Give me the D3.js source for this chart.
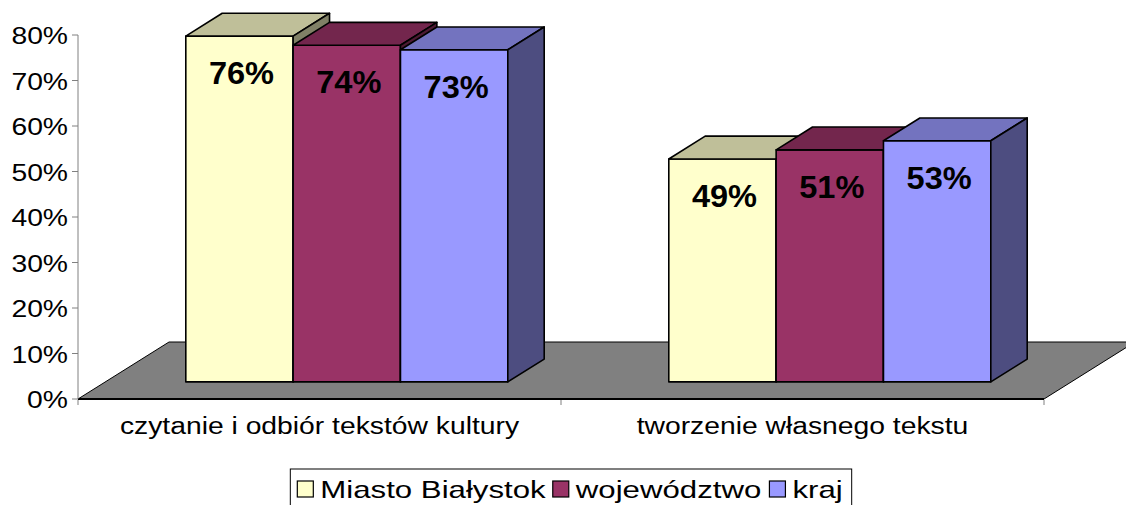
<!DOCTYPE html>
<html>
<head>
<meta charset="utf-8">
<script src="https://cdn.jsdelivr.net/npm/d3@7"></script>
<style>
  body { margin: 0; background: #fff; }
  text { font-family: Arial, "Liberation Sans", sans-serif; }
</style>
</head>
<body>
<svg id="chart" width="1126" height="505"></svg>
<script>
// Data
const categories = ["czytanie i odbiór tekstów kultury", "tworzenie własnego tekstu"];
const seriesNames = ["Miasto Białystok", "województwo", "kraj"];
const miasto = [0.76, 0.49];
const wojewodztwo = [0.74, 0.51];
const kraj = [0.73, 0.53];
const yTicks = [0, 0.1, 0.2, 0.3, 0.4, 0.5, 0.6, 0.7, 0.8];
const seriesColors = ["#FFFFCC", "#993366", "#9999FF"];

const seriesValues = [miasto, wojewodztwo, kraj];

// Layout for the 3d look
const svg = d3.select("#chart");
const depthX = 91, depthY = 57;          // offset of the back of the floor
const barFront = 0.3, barBack = 0.7;     // bar depth inside the floor
const stretch = 1.23;                    // the original text is wide

const x0 = d3.scaleBand().domain(categories).range([78, 1044]);
const x1 = d3.scaleBand().domain(seriesNames).range([0, x0.bandwidth()])
  .paddingOuter(0.75);
const y = d3.scaleLinear().domain([0, 0.8]).range([399, 35]);

// project a point (x, value, depth) to the screen
const P = (x, v, d) => [x + d * depthX, y(v) - d * depthY];
const poly = (pts) => "M" + pts.map((p) => p.join(",")).join("L") + "Z";

// Floor
const [fx0, fx1] = x0.range();
svg.append("path")
  .attr("d", poly([P(fx0, 0, 0), P(fx0, 0, 1), P(fx1, 0, 1), P(fx1, 0, 0)]))
  .attr("fill", "#808080")
  .attr("stroke", "#000")
  .attr("stroke-width", 1);

// front edge of the floor
svg.append("line")
  .attr("x1", fx0).attr("x2", fx1)
  .attr("y1", y(0)).attr("y2", y(0))
  .attr("stroke", "#000").attr("stroke-width", 2);

// category ticks
svg.selectAll(".xtick")
  .data([fx0, ...categories.slice(1).map((c) => x0(c)), fx1])
  .enter().append("line")
  .attr("x1", (d) => d).attr("x2", (d) => d)
  .attr("y1", y(0) + 1).attr("y2", y(0) + 6)
  .attr("stroke", "#808080");

// Y axis
svg.append("line")
  .attr("x1", fx0).attr("x2", fx0)
  .attr("y1", y(0.8)).attr("y2", y(0))
  .attr("stroke", "#808080");

svg.selectAll(".ytick")
  .data(yTicks)
  .enter().append("line")
  .attr("x1", fx0 - 6).attr("x2", fx0)
  .attr("y1", (d) => y(d)).attr("y2", (d) => y(d))
  .attr("stroke", "#808080");

svg.selectAll(".ylabel")
  .data(yTicks)
  .enter().append("text")
  .attr("transform", (d) => `translate(68, ${y(d) + 9}) scale(${stretch},1)`)
  .attr("text-anchor", "end")
  .attr("font-size", 23)
  .text(d3.format(".0%"));

// Bars, drawn left to right so later bars hide the sides of earlier ones
const bars = [];
categories.forEach((c, ci) => {
  seriesNames.forEach((s, si) => {
    bars.push({ c, s, si, v: seriesValues[si][ci],
      xa: x0(c) + x1(s), xb: x0(c) + x1(s) + x1.bandwidth() });
  });
});

const shade = (col, k) => {
  const c = d3.rgb(col);
  return d3.rgb(c.r * k, c.g * k, c.b * k);
};

const g = svg.selectAll(".bar").data(bars).enter().append("g");

g.append("path") // front
  .attr("d", (d) => poly([P(d.xa, 0, barFront), P(d.xa, d.v, barFront),
    P(d.xb, d.v, barFront), P(d.xb, 0, barFront)]))
  .attr("fill", (d) => seriesColors[d.si]);

g.append("path") // top
  .attr("d", (d) => poly([P(d.xa, d.v, barFront), P(d.xa, d.v, barBack),
    P(d.xb, d.v, barBack), P(d.xb, d.v, barFront)]))
  .attr("fill", (d) => shade(seriesColors[d.si], 0.75));

g.append("path") // side
  .attr("d", (d) => poly([P(d.xb, 0, barFront), P(d.xb, d.v, barFront),
    P(d.xb, d.v, barBack), P(d.xb, 0, barBack)]))
  .attr("fill", (d) => shade(seriesColors[d.si], 0.5));

g.selectAll("path")
  .attr("stroke", "#000")
  .attr("stroke-width", 1.6)
  .attr("stroke-linejoin", "round");

// value labels
svg.selectAll(".vlabel")
  .data(bars)
  .enter().append("text")
  .attr("transform", (d) => {
    const p = P((d.xa + d.xb) / 2, d.v, barFront);
    return `translate(${p[0] + 2}, ${p[1] + 48}) scale(1.05,1)`;
  })
  .attr("text-anchor", "middle")
  .attr("font-size", 31)
  .attr("font-weight", "bold")
  .text((d) => d3.format(".0%")(d.v));

// category labels
svg.selectAll(".xlabel")
  .data(categories)
  .enter().append("text")
  .attr("transform", (d) => `translate(${x0(d) + x0.bandwidth() / 2}, 434) scale(${stretch},1)`)
  .attr("text-anchor", "middle")
  .attr("font-size", 23)
  .text((d) => d);

// Legend
const legStretch = 1.3, sq = 16;
const legend = svg.append("g");
const items = legend.selectAll(".item").data(seriesNames).enter().append("g");
items.append("rect")
  .attr("width", sq).attr("height", sq)
  .attr("y", -sq - 1)
  .attr("fill", (d, i) => seriesColors[i])
  .attr("stroke", "#000").attr("stroke-width", 1.2);
items.append("text")
  .attr("transform", `translate(${sq + 7}, 0) scale(${legStretch},1)`)
  .attr("font-size", 24)
  .text((d) => d);

// getBBox does not include the text stretch, so scale it here
let lx = 0;
items.each(function () {
  const t = d3.select(this).select("text").node().getBBox().width * legStretch;
  d3.select(this).attr("transform", `translate(${lx}, 0)`);
  lx += sq + 7 + t + 7;
});
const legendW = lx - 7;
const legendX = 570 - legendW / 2;
legend.attr("transform", `translate(${legendX}, 498)`);
legend.insert("rect", ":first-child")
  .attr("x", -7).attr("y", -29)
  .attr("width", legendW + 16).attr("height", 50)
  .attr("fill", "#fff")
  .attr("stroke", "#000").attr("stroke-width", 1);
</script>
</body>
</html>
